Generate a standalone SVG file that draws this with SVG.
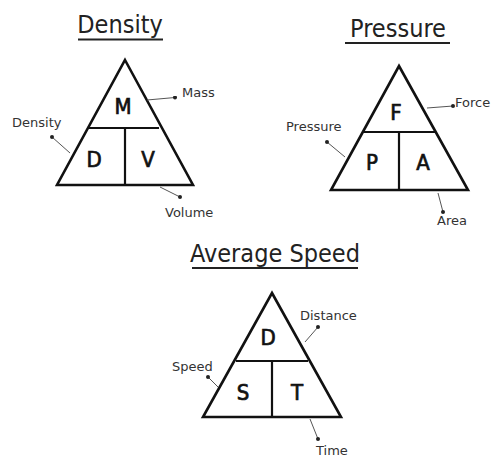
<svg xmlns="http://www.w3.org/2000/svg" width="500" height="460" viewBox="0 0 500 460">
<style>
.tri{fill:none;stroke:#111;stroke-width:2.6;stroke-linejoin:miter}
.div{stroke:#111;stroke-width:2.2}
.title{font-family:"DejaVu Sans Condensed","DejaVu Sans",sans-serif;font-stretch:condensed;font-size:25px;fill:#222;text-anchor:middle}
.ul{stroke:#222;stroke-width:1.8}
.big{font-family:"DejaVu Sans Condensed","DejaVu Sans",sans-serif;font-stretch:condensed;font-size:22px;fill:#111;stroke:#111;stroke-width:0.7;text-anchor:middle}
.lbl{font-family:"DejaVu Sans","Liberation Sans",sans-serif;font-size:13px;fill:#333}
.con{stroke:#555;stroke-width:1;fill:none;marker-end:url(#dot)}
</style>
<defs>
<marker id="dot" viewBox="0 0 6 6" refX="3" refY="3" markerWidth="4" markerHeight="4" markerUnits="userSpaceOnUse"><circle cx="3" cy="3" r="3" fill="#222"/></marker>
</defs>
<rect width="500" height="460" fill="#fff"/>
<g id="density">
<text class="title" x="120" y="33">Density</text>
<line class="ul" x1="78" y1="39.5" x2="163" y2="39.5"/>
<path class="tri" d="M125 60 L193 185 L57 185 Z"/>
<line class="div" x1="88" y1="128" x2="159" y2="128"/>
<line class="div" x1="125" y1="128" x2="125" y2="185"/>
<text class="big" x="123" y="114">M</text>
<text class="big" x="94" y="167">D</text>
<text class="big" x="148" y="167">V</text>
<text class="lbl" x="182" y="97">Mass</text>
<text class="lbl" x="12" y="127">Density</text>
<text class="lbl" x="165" y="217">Volume</text>
</g>
<g id="pressure">
<text class="title" x="398" y="37">Pressure</text>
<line class="ul" x1="345" y1="43" x2="450" y2="43"/>
<path class="tri" d="M399 66 L468 190 L331 190 Z"/>
<line class="div" x1="363" y1="132" x2="435" y2="132"/>
<line class="div" x1="399" y1="132" x2="399" y2="190"/>
<text class="big" x="396" y="120">F</text>
<text class="big" x="372" y="170">P</text>
<text class="big" x="423" y="170">A</text>
<text class="lbl" x="455" y="107">Force</text>
<text class="lbl" x="286" y="131">Pressure</text>
<text class="lbl" x="437" y="225">Area</text>
</g>
<g id="speed">
<text class="title" x="275" y="262">Average Speed</text>
<line class="ul" x1="192" y1="268" x2="358" y2="268"/>
<path class="tri" d="M272 293 L341 417 L203 417 Z"/>
<line class="div" x1="236" y1="361" x2="308" y2="361"/>
<line class="div" x1="272" y1="361" x2="272" y2="417"/>
<text class="big" x="268" y="345">D</text>
<text class="big" x="243" y="400">S</text>
<text class="big" x="297" y="400">T</text>
<text class="lbl" x="300" y="320">Distance</text>
<text class="lbl" x="172" y="371">Speed</text>
<text class="lbl" x="316" y="455">Time</text>
</g>
<g id="connectors">
<line class="con" x1="147" y1="100" x2="175" y2="97.5"/>
<line class="con" x1="70" y1="153" x2="52" y2="137"/>
<line class="con" x1="160" y1="187" x2="180" y2="197"/>
<line class="con" x1="427" y1="108" x2="453" y2="106"/>
<line class="con" x1="345" y1="157" x2="327" y2="142"/>
<line class="con" x1="438" y1="193" x2="443" y2="212"/>
<line class="con" x1="305" y1="342" x2="318" y2="327"/>
<line class="con" x1="218" y1="387" x2="208" y2="377"/>
<line class="con" x1="310" y1="419" x2="318" y2="439"/>
</g>
</svg>
